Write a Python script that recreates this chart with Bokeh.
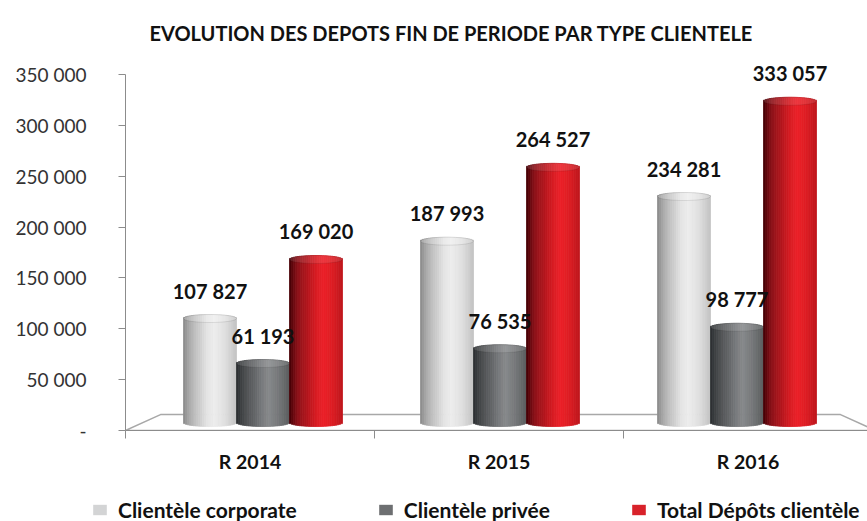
import math
from bokeh.plotting import figure
from bokeh.layouts import column
from bokeh.models import Range1d, FixedTicker, Legend, LegendItem, ColumnDataSource
from bokeh.core.properties import value
from bokeh.embed import file_html
from bokeh.resources import INLINE

# ---------------- data ----------------
categories = ["R 2014", "R 2015", "R 2016"]
corporate = [107827, 187993, 234281]
privee = [61193, 76535, 98777]
total = [169020, 264527, 333057]
series_names = ["Clientèle corporate", "Clientèle privée", "Total Dépôts clientèle"]
y_ticks = [0, 50000, 100000, 150000, 200000, 250000, 300000, 350000]
y_tick_labels = ["-", "50 000", "100 000", "150 000", "200 000", "250 000", "300 000", "350 000"]
title_text = "EVOLUTION DES DEPOTS FIN DE PERIODE PAR TYPE CLIENTELE"

# ---------------- styling ----------------
legend_colors = ["#d3d4d5", "#6d6f71", "#d8222a"]
cap_tint = [0.22, 0.12, 0.10]
profiles = [
    [(0.0, "#8a8a8a"), (0.15, "#b2b2b2"), (0.45, "#e4e4e4"), (0.6, "#ededed"), (0.82, "#dcdcdc"), (1.0, "#c2c2c2")],
    [(0.0, "#2c2f31"), (0.15, "#484b4d"), (0.5, "#7a7c7e"), (0.62, "#87898b"), (0.85, "#6f7173"), (1.0, "#5a5c5e")],
    [(0.0, "#420005"), (0.15, "#8a1118"), (0.5, "#d61c23"), (0.65, "#ec2129"), (0.85, "#d81c22"), (1.0, "#be161c")],
]

W = 867
H_MAIN, H_LEG = 480, 41
FL, FT, FB = 125, 60, 430
FW, FH = W - FL, FB - FT
AX_PX_CAT = 249.0
AX_PX_VAL = 358.0 / 350000
BAR_PX_CAT = 237.0
BAR_X0 = 19.0
BAR_Y0 = 8.0
BAR_PX_VAL = 0.97 / 1000
BAR_W_PX = 53.0
ELL_H = 8
NSTRIP = 28


def hex2rgb(h):
    h = h.lstrip("#")
    return tuple(int(h[i:i + 2], 16) for i in (0, 2, 4))


def shade(stops, t):
    for (t0, c0), (t1, c1) in zip(stops[:-1], stops[1:]):
        if t0 <= t <= t1:
            f = (t - t0) / (t1 - t0)
            a, b = hex2rgb(c0), hex2rgb(c1)
            return "#%02x%02x%02x" % tuple(round(a[j] + (b[j] - a[j]) * f) for j in range(3))
    return stops[-1][1]


x_range = Range1d(0, FW / AX_PX_CAT)
y_range = Range1d(0, FH / AX_PX_VAL)

p = figure(width=W, height=H_MAIN, x_range=x_range, y_range=y_range,
           output_backend="svg", toolbar_location=None, title=title_text,
           min_border_left=FL, min_border_right=0, min_border_top=FT,
           min_border_bottom=H_MAIN - FB)
p.frame_align = False
p.extra_x_ranges = {"bx": Range1d(-BAR_X0 / BAR_PX_CAT, (FW - BAR_X0) / BAR_PX_CAT)}
p.extra_y_ranges = {"by": Range1d(-BAR_Y0 / BAR_PX_VAL, (FH - BAR_Y0) / BAR_PX_VAL)}
p.outline_line_color = None
p.xgrid.visible = False
p.ygrid.visible = False
p.background_fill_color = "white"
p.border_fill_color = "white"

# title
p.title.align = "left"
p.title.offset = 24
p.title.text_font = "Lato"
p.title.text_font_style = "bold"
p.title.text_font_size = "20px"
p.title.text_color = "#111111"
p.title.standoff = 36

# floor (3D base)
p.patch(x=[0, 35 / AX_PX_CAT, 715 / AX_PX_CAT, 750 / AX_PX_CAT],
        y=[0, 16 / AX_PX_VAL, 16 / AX_PX_VAL, 0],
        fill_color="white", line_color="#a8a8a8", line_width=1.5)

# cylinders
series = [corporate, privee, total]
bw = BAR_W_PX / BAR_PX_CAT
sw = bw / NSTRIP
ell_half = (ELL_H / 2) / BAR_PX_VAL
xs, tops, bottoms, cols = [], [], [], []
for s, vals in enumerate(series):
    for i, v in enumerate(vals):
        cx = i + 0.5 + (s - 1) * bw
        for k in range(NSTRIP):
            t = (k + 0.5) / NSTRIP
            d = ell_half * math.sqrt(max(0.0, 1 - (2 * t - 1) ** 2))
            xs.append(cx - bw / 2 + t * bw)
            tops.append(v + d)
            bottoms.append(-d)
            cols.append(shade(profiles[s], t))
src = ColumnDataSource(dict(x=xs, top=tops, bottom=bottoms, color=cols))
p.vbar(x="x", top="top", bottom="bottom", width=sw, source=src,
       fill_color="color", line_color="color", line_width=0.8,
       x_range_name="bx", y_range_name="by")

for s, vals in enumerate(series):
    cxs = [i + 0.5 + (s - 1) * bw for i in range(len(vals))]
    p.ellipse(x=cxs, y=vals, width=bw, height=ELL_H, height_units="screen",
              fill_color="white", fill_alpha=cap_tint[s],
              line_color="#000000", line_alpha=0.12, line_width=0.8,
              x_range_name="bx", y_range_name="by")

for s, vals in enumerate(series):
    cxs = [i + 0.5 + (s - 1) * bw for i in range(len(vals))]
    p.text(x=cxs, y=vals, text=[f"{v:,}".replace(",", " ") for v in vals],
           text_align="center", text_baseline="middle", y_offset=-28,
           text_font=value("Lato"), text_font_style="bold", text_font_size="20px",
           text_color="#111111", x_range_name="bx", y_range_name="by")

# axes
ax_col = "#8c8c8c"
p.yaxis.ticker = FixedTicker(ticks=y_ticks)
p.yaxis.major_label_overrides = dict(zip(y_ticks, y_tick_labels))
p.yaxis.bounds = (0, 350000)
p.yaxis.major_label_text_font = "Lato"
p.yaxis.major_label_text_font_size = "19px"
p.yaxis.major_label_text_color = "#333333"
p.yaxis.major_label_standoff = 32
p.yaxis.major_tick_out = 7
p.yaxis.major_tick_in = 0
p.yaxis.minor_tick_line_color = None
p.yaxis.axis_line_color = ax_col
p.yaxis.major_tick_line_color = ax_col

cat_pos = [i + 0.5 for i in range(len(categories))]
p.xaxis.ticker = FixedTicker(ticks=cat_pos, minor_ticks=list(range(len(categories) + 1)))
p.xaxis.major_label_overrides = dict(zip(cat_pos, categories))
p.xaxis.major_label_text_font = "Lato"
p.xaxis.major_label_text_font_style = "bold"
p.xaxis.major_label_text_font_size = "19.5px"
p.xaxis.major_label_text_color = "#111111"
p.xaxis.major_label_standoff = 11
p.xaxis.major_tick_line_color = None
p.xaxis.major_tick_out = 0
p.xaxis.major_tick_in = 0
p.xaxis.minor_tick_out = 8
p.xaxis.minor_tick_in = 0
p.xaxis.minor_tick_line_color = ax_col
p.xaxis.axis_line_color = ax_col

# legend strip (separate canvas under the chart); legend swatches are
# proxies placed outside the visible range
q = figure(width=W, height=H_LEG, x_range=Range1d(0, 1), y_range=Range1d(0, 1),
           output_backend="svg", toolbar_location=None,
           min_border=0, min_border_left=0, min_border_right=0,
           min_border_top=0, min_border_bottom=0,
           x_axis_location=None, y_axis_location=None)
q.frame_align = False
q.outline_line_color = None
q.xgrid.visible = False
q.ygrid.visible = False
q.border_fill_color = "white"
items = []
for name, c in zip(series_names, legend_colors):
    r = q.vbar(x=[5], top=[1], width=0.1, fill_color=c, line_color=None)
    items.append(LegendItem(label=name, renderers=[r]))
legend = Legend(items=items, location=(91, -1), orientation="horizontal",
                padding=0, margin=0, spacing=80, glyph_width=17, glyph_height=13,
                label_standoff=10, label_text_font="Lato", label_text_font_style="bold",
                label_text_font_size="21px", label_text_color="#111111",
                border_line_color=None, background_fill_alpha=0)
q.add_layout(legend)

layout = column(p, q, spacing=0)
open("out.html", "w").write(file_html(layout, INLINE))
